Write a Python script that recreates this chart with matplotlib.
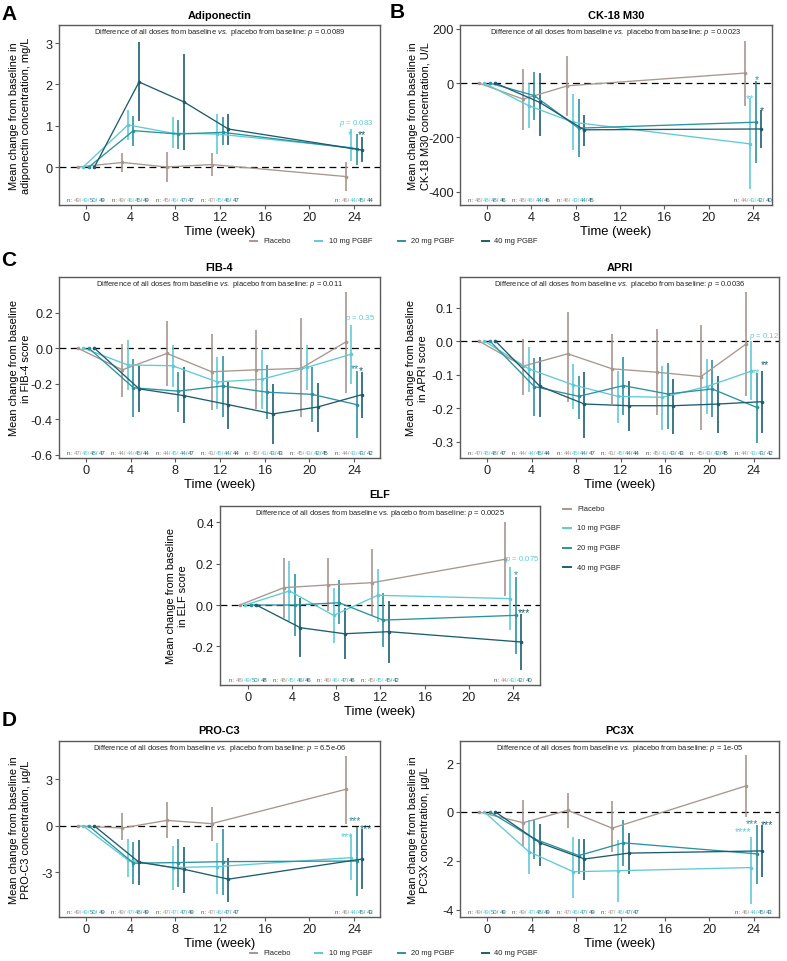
import matplotlib
matplotlib.use('Agg')
import matplotlib.pyplot as plt
from matplotlib.offsetbox import TextArea, HPacker, AnnotationBbox
from matplotlib.lines import Line2D

plt.rcParams['font.family'] = ['Liberation Sans', 'DejaVu Sans']
plt.rcParams['axes.unicode_minus'] = False
plt.rcParams['mathtext.fontset'] = 'custom'
plt.rcParams['mathtext.rm'] = 'Liberation Sans'
plt.rcParams['mathtext.it'] = 'Liberation Sans:italic'

# ---------------- data ----------------
GROUPS = ["Placebo", "10 mg PGBF", "20 mg PGBF", "40 mg PGBF"]
COLORS = ['#A8968F', '#5FCAD6', '#2B929F', '#1D5D70']
DODGE = [-0.75, -0.25, 0.25, 0.75]
XTICKS = [0, 4, 8, 12, 16, 20, 24]

# Adiponectin
ADIPO_WEEKS = [0, 4, 8, 12, 24]
ADIPO_MEAN = {"Placebo": [0, 0.11, 0.0, 0.06, -0.23], "10 mg PGBF": [0, 1.02, 0.82, 0.80, 0.47],
              "20 mg PGBF": [0, 0.88, 0.80, 0.84, 0.44], "40 mg PGBF": [0, 2.06, 1.58, 0.92, 0.41]}
ADIPO_LO = {"Placebo": [0, -0.13, -0.36, -0.21, -0.57], "10 mg PGBF": [0, 0.66, 0.45, 0.31, 0.15],
            "20 mg PGBF": [0, 0.52, 0.44, 0.53, 0.05], "40 mg PGBF": [0, 1.12, 0.42, 0.53, 0.11]}
ADIPO_HI = {"Placebo": [0, 0.35, 0.36, 0.34, 0.13], "10 mg PGBF": [0, 1.39, 1.20, 1.28, 0.92],
            "20 mg PGBF": [0, 1.24, 1.15, 1.20, 0.80], "40 mg PGBF": [0, 3.02, 2.73, 1.28, 0.72]}
ADIPO_N = [[49, 49, 50, 49], [49, 46, 45, 49], [45, 46, 47, 47], [47, 45, 46, 47], [46, 44, 45, 44]]

# CK-18 M30
CK18_WEEKS = [0, 4, 8, 24]
CK18_MEAN = {"Placebo": [0, -59, -10, 37], "10 mg PGBF": [0, -83, -144, -224],
             "20 mg PGBF": [0, -46, -166, -144], "40 mg PGBF": [0, -71, -172, -169]}
CK18_LO = {"Placebo": [0, -172, -120, -86], "10 mg PGBF": [0, -166, -248, -391],
           "20 mg PGBF": [0, -137, -273, -294], "40 mg PGBF": [0, -196, -232, -240]}
CK18_HI = {"Placebo": [0, 51, 98, 155], "10 mg PGBF": [0, 2, -40, -56],
           "20 mg PGBF": [0, 42, -59, 9], "40 mg PGBF": [0, 37, -117, -98]}
CK18_N = [[48, 48, 48, 46], [48, 46, 44, 46], [46, 43, 44, 45], [44, 43, 42, 40]]

# FIB-4
FIB4_WEEKS = [0, 4, 8, 12, 16, 20, 24]
FIB4_MEAN = {"Placebo": [0, -0.122, -0.03, -0.133, -0.122, -0.114, 0.034],
             "10 mg PGBF": [0, -0.095, -0.099, -0.19, -0.175, -0.109, -0.034],
             "20 mg PGBF": [0, -0.223, -0.242, -0.213, -0.248, -0.26, -0.318],
             "40 mg PGBF": [0, -0.229, -0.267, -0.318, -0.37, -0.331, -0.261]}
FIB4_LO = {"Placebo": [0, -0.274, -0.213, -0.35, -0.343, -0.389, -0.255],
           "10 mg PGBF": [0, -0.236, -0.217, -0.343, -0.343, -0.236, -0.204],
           "20 mg PGBF": [0, -0.385, -0.362, -0.385, -0.40, -0.413, -0.505],
           "40 mg PGBF": [0, -0.362, -0.423, -0.457, -0.541, -0.47, -0.394]}
FIB4_HI = {"Placebo": [0, 0.025, 0.152, 0.08, 0.10, 0.168, 0.316],
           "10 mg PGBF": [0, 0.044, 0.019, -0.048, -0.013, 0.015, 0.13],
           "20 mg PGBF": [0, -0.06, -0.133, -0.046, -0.095, -0.109, -0.128],
           "40 mg PGBF": [0, -0.103, -0.109, -0.19, -0.204, -0.194, -0.133]}
FIB4_N = [[47, 48, 48, 47], [44, 44, 45, 44], [44, 45, 44, 47], [41, 45, 44, 44],
          [45, 41, 43, 43], [45, 43, 42, 45], [44, 43, 43, 42]]

# APRI
APRI_WEEKS = [0, 4, 8, 12, 16, 20, 24]
APRI_MEAN = {"Placebo": [0, -0.075, -0.038, -0.083, -0.093, -0.106, -0.01],
             "10 mg PGBF": [0, -0.083, -0.131, -0.165, -0.168, -0.136, -0.09],
             "20 mg PGBF": [0, -0.136, -0.165, -0.133, -0.158, -0.143, -0.198],
             "40 mg PGBF": [0, -0.135, -0.188, -0.193, -0.193, -0.188, -0.181]}
APRI_LO = {"Placebo": [0, -0.161, -0.181, -0.188, -0.221, -0.265, -0.165],
           "10 mg PGBF": [0, -0.153, -0.203, -0.245, -0.265, -0.218, -0.175],
           "20 mg PGBF": [0, -0.223, -0.233, -0.221, -0.261, -0.228, -0.303],
           "40 mg PGBF": [0, -0.228, -0.288, -0.268, -0.278, -0.273, -0.273]}
APRI_HI = {"Placebo": [0, 0.007, 0.087, 0.022, 0.035, 0.049, 0.145],
           "10 mg PGBF": [0, -0.018, -0.068, -0.088, -0.075, -0.055, -0.001],
           "20 mg PGBF": [0, -0.051, -0.103, -0.048, -0.065, -0.058, -0.095],
           "40 mg PGBF": [0, -0.048, -0.091, -0.118, -0.113, -0.103, -0.088]}
APRI_N = [[47, 48, 48, 47], [44, 44, 45, 44], [44, 45, 44, 47], [41, 45, 44, 44],
          [45, 41, 43, 43], [45, 43, 42, 45], [44, 43, 43, 42]]

# ELF
ELF_WEEKS = [0, 4, 8, 12, 24]
ELF_MEAN = {"Placebo": [0, 0.084, 0.097, 0.108, 0.221], "10 mg PGBF": [0, 0.068, -0.05, 0.047, 0.031],
            "20 mg PGBF": [0, 0.0, 0.011, -0.073, -0.05], "40 mg PGBF": [0, -0.11, -0.139, -0.129, -0.179]}
ELF_LO = {"Placebo": [0, -0.061, -0.029, -0.053, 0.044], "10 mg PGBF": [0, -0.077, -0.185, -0.082, -0.121],
          "20 mg PGBF": [0, -0.15, -0.094, -0.202, -0.235], "40 mg PGBF": [0, -0.25, -0.26, -0.279, -0.315]}
ELF_HI = {"Placebo": [0, 0.229, 0.229, 0.269, 0.40], "10 mg PGBF": [0, 0.213, 0.084, 0.176, 0.185],
          "20 mg PGBF": [0, 0.152, 0.119, 0.056, 0.137], "40 mg PGBF": [0, 0.035, -0.013, 0.019, -0.042]}
ELF_N = [[48, 49, 50, 48], [48, 45, 46, 46], [46, 46, 47, 46], [45, 45, 45, 42], [44, 42, 42, 40]]

# PRO-C3
PROC3_WEEKS = [0, 4, 8, 12, 24]
PROC3_MEAN = {"Placebo": [0, -0.13, 0.36, 0.15, 2.36], "10 mg PGBF": [0, -2.19, -2.68, -2.62, -2.04],
              "20 mg PGBF": [0, -2.40, -2.36, -2.30, -2.26], "40 mg PGBF": [0, -2.34, -2.79, -3.43, -2.13]}
PROC3_LO = {"Placebo": [0, -0.91, -0.77, -0.98, 0.15], "10 mg PGBF": [0, -3.26, -4.10, -4.38, -3.47],
            "20 mg PGBF": [0, -3.74, -3.96, -4.43, -4.53], "40 mg PGBF": [0, -3.83, -4.32, -4.89, -4.06]}
PROC3_HI = {"Placebo": [0, 0.85, 1.54, 1.22, 4.54], "10 mg PGBF": [0, -0.81, -1.28, -1.13, -0.60],
            "20 mg PGBF": [0, -1.02, -0.85, -0.17, -0.06], "40 mg PGBF": [0, -0.91, -1.34, -2.04, -0.21]}
PROC3_N = [[49, 49, 50, 49], [49, 47, 48, 49], [47, 47, 47, 49], [47, 46, 47, 47], [46, 44, 45, 43]]

# PC3X
PC3X_WEEKS = [0, 4, 8, 12, 24]
PC3X_MEAN = {"Placebo": [0, -0.44, 0.07, -0.66, 1.06], "10 mg PGBF": [0, -1.62, -2.44, -2.40, -2.27],
             "20 mg PGBF": [0, -1.10, -1.78, -1.26, -1.71], "40 mg PGBF": [0, -1.26, -1.92, -1.68, -1.59]}
PC3X_LO = {"Placebo": [0, -1.37, -0.66, -1.62, -0.20], "10 mg PGBF": [0, -2.53, -3.53, -3.67, -3.77],
           "20 mg PGBF": [0, -1.92, -2.53, -2.19, -2.95], "40 mg PGBF": [0, -2.19, -2.77, -2.53, -2.67]}
PC3X_HI = {"Placebo": [0, 0.48, 0.79, 0.44, 2.31], "10 mg PGBF": [0, -0.34, -1.03, -1.16, -1.03],
           "20 mg PGBF": [0, -0.34, -1.10, -0.34, -0.52], "40 mg PGBF": [0, -0.48, -1.10, -0.85, -0.55]}
PC3X_N = [[49, 49, 50, 49], [49, 47, 48, 49], [47, 46, 47, 49], [47, 46, 47, 47], [46, 44, 45, 43]]

# ---------------- figure ----------------
W, H = 787, 962
fig = plt.figure(figsize=(W / 100, H / 100), dpi=100)

TICK_SZ = 9.2
NSZ = 4.3
DIFF_SZ = 5.45
STAR_SZ = 7.5
PSZ = 5.6
SPINE_C = '#5a5a5a'


def fx(px):
    return px / W


def fy(py):
    return 1 - py / H


def diff_str(p, italic_vs=True):
    vs = r'$\mathit{vs.}$' if italic_vs else 'vs.'
    return 'Difference of all doses from baseline ' + vs + r' placebo from baseline: $\mathit{p}$ = ' + p


def panel(rect, weeks, mean, lo, hi, xlim, ylim, yticks, yticklabels, title, title_y,
          ylabel, ylabel_x, diff, nlist, annots, italic_vs=True):
    l, t, r, b = rect
    ax = fig.add_axes([l / W, 1 - b / H, (r - l) / W, (b - t) / H])
    ax.axhline(0, color='black', lw=0.9, ls=(0, (5.5, 3.5)), zorder=1)
    for gi, g in enumerate(GROUPS):
        xs = [w + DODGE[gi] for w in weeks]
        ax.vlines(xs[1:], lo[g][1:], hi[g][1:], color=COLORS[gi], lw=1.4, alpha=0.85, zorder=2)
        ax.plot(xs, mean[g], color=COLORS[gi], lw=0.95, zorder=3, marker='o', ms=1.6)
    ax.set_xlim(*xlim)
    ax.set_ylim(*ylim)
    ax.set_xticks(XTICKS)
    ax.set_xticklabels([str(v) for v in XTICKS])
    ax.set_yticks(yticks)
    ax.set_yticklabels(yticklabels)
    ax.tick_params(labelsize=TICK_SZ, length=3, width=0.8, color=SPINE_C, pad=1.5, labelcolor='#222222')
    for s in ax.spines.values():
        s.set_color(SPINE_C)
        s.set_linewidth(1.0)
    ax.set_xlabel('Time (week)', fontsize=9.4, labelpad=1)
    # title
    fig.text(fx((l + r) / 2), fy(title_y), title, ha='center', va='center', fontsize=7.9, fontweight='bold')
    # ylabel
    fig.text(fx(ylabel_x), fy((t + b) / 2), ylabel, rotation=90, ha='center', va='center',
             fontsize=7.9, linespacing=1.25, multialignment='center')
    # difference text
    ax.text(0.5, 1 - 7 / (b - t), diff_str(diff, italic_vs), transform=ax.transAxes,
            ha='center', va='center', fontsize=DIFF_SZ, color='#222222')
    # n labels
    for w, counts in zip(weeks, nlist):
        parts = [TextArea('n: ', textprops=dict(color='#555555', size=NSZ))]
        for i, c in enumerate(counts):
            s = str(c) + ('/' if i < 3 else '')
            parts.append(TextArea(s, textprops=dict(color=COLORS[i], size=NSZ)))
        box = HPacker(children=parts, pad=0, sep=0, align='baseline')
        ab = AnnotationBbox(box, (w, 5.5 / (b - t)), xycoords=('data', 'axes fraction'),
                            frameon=False, box_alignment=(0.5, 0.5), pad=0)
        ax.add_artist(ab)
    # annotations
    for txt, x, y, ci in annots:
        size = PSZ if 'p' in txt else STAR_SZ
        ax.text(x, y, txt, color=COLORS[ci], fontsize=size, ha='center', va='center', zorder=5)
    return ax


P = r'$\mathit{p}$'

panel((59, 26, 380, 206), ADIPO_WEEKS, ADIPO_MEAN, ADIPO_LO, ADIPO_HI,
      (-2.42, 26.33), (-0.92, 3.44), [0, 1, 2, 3], ['0', '1', '2', '3'],
      'Adiponectin', 16, 'Mean change from baseline in\nadiponectin concentration, mg/L', 20,
      '0.0089', ADIPO_N,
      [(P + ' = 0.083', 24.2, 1.08, 1), ('*', 23.65, 0.80, 1), ('**', 24.7, 0.80, 3)])

panel((460, 26, 772, 206), CK18_WEEKS, CK18_MEAN, CK18_LO, CK18_HI,
      (-2.44, 25.7), (-449, 214), [-400, -200, 0, 200], ['-400', '-200', '0', '200'],
      'CK-18 M30', 16, 'Mean change from baseline in\nCK-18 M30 concentration, U/L', 419,
      '0.0023', CK18_N,
      [('**', 23.7, -55, 1), ('*', 24.3, 14, 2), ('*', 24.8, -98, 3)])

panel((59, 278, 380, 459), FIB4_WEEKS, FIB4_MEAN, FIB4_LO, FIB4_HI,
      (-2.42, 26.33), (-0.618, 0.40), [-0.6, -0.4, -0.2, 0.0, 0.2], ['-0.6', '-0.4', '-0.2', '0.0', '0.2'],
      'FIB-4', 268, 'Mean change from baseline\nin FIB-4 score', 20,
      '0.011', FIB4_N,
      [(P + ' = 0.35', 24.5, 0.171, 1), ('**', 24.1, -0.11, 2), ('*', 24.65, -0.125, 3)])

panel((460, 278, 779, 459), APRI_WEEKS, APRI_MEAN, APRI_LO, APRI_HI,
      (-2.44, 26.26), (-0.349, 0.191), [-0.3, -0.2, -0.1, 0.0, 0.1], ['-0.3', '-0.2', '-0.1', '0.0', '0.1'],
      'APRI', 268, 'Mean change from baseline\nin APRI score', 417,
      '0.0036', APRI_N,
      [(P + ' = 0.12', 24.9, 0.015, 1), ('**', 24.2, -0.092, 1), ('**', 25.0, -0.07, 3)])

panel((220, 507, 540, 686), ELF_WEEKS, ELF_MEAN, ELF_LO, ELF_HI,
      (-2.54, 26.45), (-0.387, 0.479), [-0.2, 0.0, 0.2, 0.4], ['-0.2', '0.0', '0.2', '0.4'],
      'ELF', 495, 'Mean change from baseline\nin ELF score', 177,
      '0.0025', ELF_N,
      [(P + ' = 0.075', 24.8, 0.226, 1), ('*', 24.25, 0.15, 2), ('***', 25.0, -0.034, 3)],
      italic_vs=False)

panel((59, 742, 380, 918), PROC3_WEEKS, PROC3_MEAN, PROC3_LO, PROC3_HI,
      (-2.42, 26.33), (-5.87, 5.48), [-3, 0, 3], ['-3', '0', '3'],
      'PRO-C3', 731, 'Mean change from baseline in\nPRO-C3 concentration, \u00b5g/L', 20,
      '6.5e-06', PROC3_N,
      [('***', 23.4, -0.65, 1), ('***', 24.1, 0.4, 2), ('***', 25.1, -0.12, 3)])

panel((460, 742, 779, 918), PC3X_WEEKS, PC3X_MEAN, PC3X_LO, PC3X_HI,
      (-2.44, 26.26), (-4.29, 2.9), [-4, -2, 0, 2], ['-4', '-2', '0', '2'],
      'PC3X', 731, 'Mean change from baseline in\nPC3X concentration, \u00b5g/L', 419,
      '1e-05', PC3X_N,
      [('****', 23.0, -0.78, 1), ('***', 23.8, -0.45, 2), ('***', 25.2, -0.5, 3)])

# panel letters
for letter, x, y in [('A', 9, 14), ('B', 397, 12), ('C', 9, 261), ('D', 9, 721)]:
    fig.text(fx(x), fy(y), letter, ha='center', va='center', fontsize=15, fontweight='bold')


# legends
def legend_row(y):
    for gi, (mx, tx) in enumerate(zip([250, 315, 398, 482], [263, 329, 411, 494])):
        fig.add_artist(Line2D([fx(mx), fx(mx + 7)], [fy(y), fy(y)], color=COLORS[gi], lw=1.4,
                              transform=fig.transFigure))
        fig.text(fx(tx), fy(y), GROUPS[gi], ha='left', va='center', fontsize=5.4, color='#222222')


legend_row(242)
legend_row(954)
for gi, y in enumerate([510, 529, 549, 568]):
    fig.add_artist(Line2D([fx(563), fx(571)], [fy(y), fy(y)], color=COLORS[gi], lw=1.4,
                          transform=fig.transFigure))
    fig.text(fx(577), fy(y), GROUPS[gi], ha='left', va='center', fontsize=5.4, color='#222222')

fig.savefig('out.png', dpi=100)
